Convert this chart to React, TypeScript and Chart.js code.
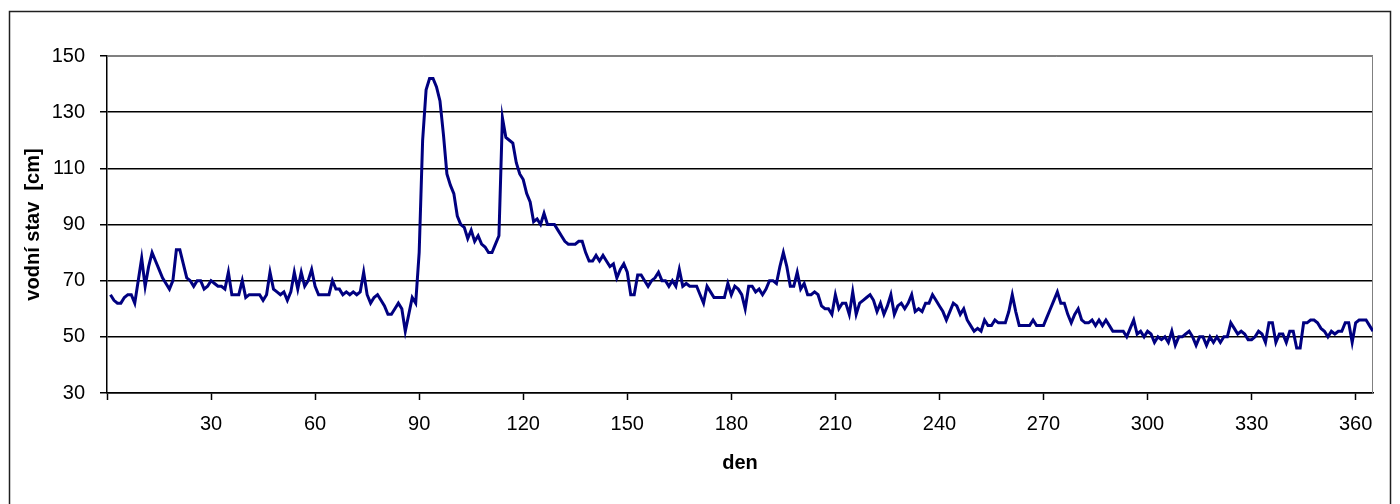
import React, { useEffect, useRef } from "react";
import { Chart, registerables } from "chart.js";

Chart.register(...registerables);

// water level [cm] for each day of the year (day 1 .. 365)
const levels: number[] = [
  65, 63, 62, 62, 64, 65, 65, 62, 70, 78,
  68, 75, 80, 77, 74, 71, 69, 67, 70, 81,
  81, 76, 71, 70, 68, 70, 70, 67, 68, 70,
  69, 68, 68, 67, 73, 65, 65, 65, 70, 64,
  65, 65, 65, 65, 63, 65, 73, 67, 66, 65,
  66, 63, 66, 73, 67, 73, 68, 70, 74, 68,
  65, 65, 65, 65, 70, 67, 67, 65, 66, 65,
  66, 65, 66, 73, 65, 62, 64, 65, 63, 61,
  58, 58, 60, 62, 60, 52, 58, 64, 62, 80,
  120, 138, 142, 142, 139, 134, 122, 108, 104, 101,
  93, 90, 89, 85, 88, 84, 86, 83, 82, 80,
  80, 83, 86, 128, 121, 120, 119, 112, 108, 106,
  101, 98, 91, 92, 90, 94, 90, 90, 90, 88,
  86, 84, 83, 83, 83, 84, 84, 80, 77, 77,
  79, 77, 79, 77, 75, 76, 71, 74, 76, 73,
  65, 65, 72, 72, 70, 68, 70, 71, 73, 70,
  70, 68, 70, 68, 74, 68, 69, 68, 68, 68,
  65, 62, 68, 66, 64, 64, 64, 64, 69, 65,
  68, 67, 65, 60, 68, 68, 66, 67, 65, 67,
  70, 70, 69, 75, 80, 75, 68, 68, 73, 67,
  69, 65, 65, 66, 65, 61, 60, 60, 58, 65,
  60, 62, 62, 58, 66, 58, 62, 63, 64, 65,
  63, 59, 62, 58, 61, 65, 58, 61, 62, 60,
  62, 65, 59, 60, 59, 62, 62, 65, 63, 61,
  59, 56, 59, 62, 61, 58, 60, 56, 54, 52,
  53, 52, 56, 54, 54, 56, 55, 55, 55, 59,
  65, 59, 54, 54, 54, 54, 56, 54, 54, 54,
  57, 60, 63, 66, 62, 62, 58, 55, 58, 60,
  56, 55, 55, 56, 54, 56, 54, 56, 54, 52,
  52, 52, 52, 50, 53, 56, 51, 52, 50, 52,
  51, 48, 50, 49, 50, 48, 52, 47, 50, 50,
  51, 52, 50, 47, 50, 50, 47, 50, 48, 50,
  48, 50, 50, 55, 53, 51, 52, 51, 49, 49,
  50, 52, 51, 48, 55, 55, 48, 51, 51, 48,
  52, 52, 46, 46, 55, 55, 56, 56, 55, 53,
  52, 50, 52, 51, 52, 52, 55, 55, 48, 55,
  56, 56, 56, 54, 52,
];

const firstDay = 1;
const xTickValues: number[] = [0, 30, 60, 90, 120, 150, 180, 210, 240, 270, 300, 330, 360];
const yTickValues: number[] = [30, 50, 70, 90, 110, 130, 150];
const xTitle = "den";
const yTitle = "vodní stav  [cm]";

const FONT = "'Liberation Sans', Arial, sans-serif";

const framePlugin = {
  id: "frame",
  beforeDraw(chart: any) {
    const { ctx, width, height } = chart;
    ctx.save();
    ctx.fillStyle = "#ffffff";
    ctx.fillRect(0, 0, width, height);
    ctx.restore();
  },
  beforeDatasetsDraw(chart: any) {
    const { ctx, chartArea } = chart;
    ctx.save();
    ctx.strokeStyle = "#808080";
    ctx.lineWidth = 1;
    ctx.beginPath();
    ctx.moveTo(Math.round(chartArea.left) + 0.5, Math.round(chartArea.top) + 0.5);
    ctx.lineTo(Math.round(chartArea.right) - 0.5, Math.round(chartArea.top) + 0.5);
    ctx.lineTo(Math.round(chartArea.right) - 0.5, Math.round(chartArea.bottom) + 0.5);
    ctx.stroke();
    ctx.restore();
  },
  afterDraw(chart: any) {
    const { ctx, height } = chart;
    ctx.save();
    ctx.strokeStyle = "#202020";
    ctx.lineWidth = 1.5;
    ctx.strokeRect(9.5, 11.5, 1381, height + 20);
    ctx.restore();
  },
};

export default function App() {
  const canvasRef = useRef<HTMLCanvasElement | null>(null);

  useEffect(() => {
    document.body.style.margin = "0";
    const canvas = canvasRef.current;
    if (!canvas) return;
    const points = levels.map((v, i) => ({ x: firstDay + i, y: v }));
    const chart = new Chart(canvas, {
      type: "line",
      data: {
        datasets: [
          {
            data: points,
            borderColor: "#000080",
            borderWidth: 3,
            pointRadius: 0,
            tension: 0,
            fill: false,
          },
        ],
      },
      options: {
        animation: false,
        responsive: false,
        devicePixelRatio: 1,
        layout: { padding: { left: 0, top: 56, right: 27, bottom: 0 } },
        plugins: {
          legend: { display: false },
          tooltip: { enabled: false },
        },
        scales: {
          x: {
            type: "linear",
            min: 0,
            max: 365,
            afterFit: (scale: any) => {
              scale.height = 111;
            },
            afterBuildTicks: (scale: any) => {
              scale.ticks = xTickValues.map((v) => ({ value: v }));
            },
            grid: {
              drawOnChartArea: false,
              drawTicks: true,
              tickLength: 7,
              tickColor: "#000000",
              tickWidth: 1.5,
            },
            border: { display: true, color: "#000000", width: 1.5 },
            ticks: {
              autoSkip: false,
              maxRotation: 0,
              padding: 12,
              color: "#000000",
              font: { family: FONT, size: 20 },
              callback: (v: any) => (Number(v) === 0 ? "" : String(v)),
            },
            title: {
              display: true,
              text: xTitle,
              color: "#000000",
              font: { family: FONT, size: 20, weight: "bold" },
              padding: { top: 0, bottom: 29 },
            },
          },
          y: {
            type: "linear",
            min: 30,
            max: 150,
            afterFit: (scale: any) => {
              scale.width = 107;
            },
            afterBuildTicks: (scale: any) => {
              scale.ticks = yTickValues.map((v) => ({ value: v }));
            },
            grid: {
              drawOnChartArea: true,
              drawTicks: true,
              tickLength: 7,
              color: (c: any) => (c.tick && c.tick.value === 150 ? "#808080" : "#000000"),
              tickColor: "#000000",
              lineWidth: 1.5,
              tickWidth: 1.5,
            },
            border: { display: true, color: "#000000", width: 1.5 },
            ticks: {
              padding: 15,
              color: "#000000",
              font: { family: FONT, size: 20 },
            },
            title: {
              display: true,
              text: yTitle,
              color: "#000000",
              font: { family: FONT, size: 20, weight: "bold" },
              padding: { top: 21, bottom: 0 },
            },
          },
        },
      },
      plugins: [framePlugin],
    });
    return () => {
      chart.destroy();
    };
  }, []);

  return (
    <div style={{ width: 1400, height: 504 }}>
      <canvas ref={canvasRef} width={1400} height={504} style={{ display: "block" }} />
    </div>
  );
}
